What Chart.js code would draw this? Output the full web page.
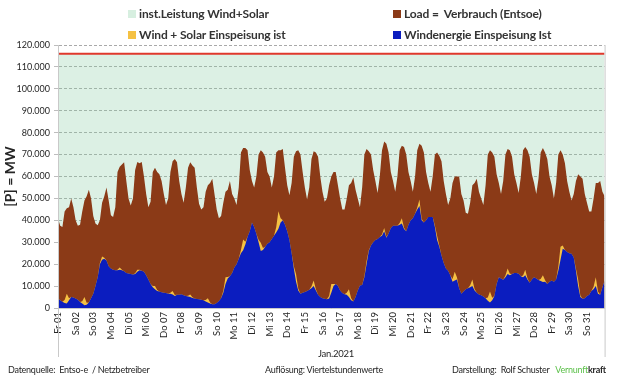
<!DOCTYPE html>
<html>
<head>
<meta charset="utf-8">
<script src="https://cdn.jsdelivr.net/npm/chart.js@4.4.1/dist/chart.umd.min.js"></script>
<style>
  body { margin: 0; background: #fff; font-family: Lato, "Open Sans", sans-serif; color: #262626; }
  #wrap { position: relative; width: 620px; height: 380px; overflow: hidden; }
  #chart { position: absolute; left: 0; top: 0; }
  .leg { position: absolute; font-weight: bold; font-size: 12px; line-height: 14px; white-space: nowrap; color: #333; letter-spacing: -0.15px; }
  .leg i { position: absolute; left: -11px; top: 3px; width: 8px; height: 8px; }
  .foot { position: absolute; top: 364px; font-size: 9px; line-height: 12px; white-space: nowrap; letter-spacing: -0.25px; }
</style>
</head>
<body>
<div id="wrap">
  <canvas id="chart" width="620" height="380"></canvas>
  <div class="leg" style="left:139px;top:7px"><i style="background:#d7efe0"></i>inst.Leistung Wind+Solar</div>
  <div class="leg" style="left:404px;top:7px"><i style="background:#8b3a17"></i>Load =&nbsp; Verbrauch (Entsoe)</div>
  <div class="leg" style="left:139px;top:28px"><i style="background:#f5c143"></i>Wind + Solar Einspeisung ist</div>
  <div class="leg" style="left:404px;top:28px"><i style="background:#0b1dbf"></i>Windenergie Einspeisung Ist</div>
  <div class="foot" style="left:318px;top:348px;font-size:9.5px">Jan.2021</div>
  <div class="foot" style="left:8px">Datenquelle:&nbsp; Entso-e&nbsp; / Netzbetreiber</div>
  <div class="foot" style="left:265px">Auflösung: Viertelstundenwerte</div>
  <div class="foot" style="left:452px">Darstellung:&nbsp; Rolf Schuster&nbsp;&nbsp; <span style="color:#5cc04a">Vernunft</span><b>kraft</b></div>
</div>
<script>
// January 2021, values every 3 hours (00,03,06,...,21h) per day, MW
var dayLabels = ["Fr 01", "Sa 02", "So 03", "Mo 04", "Di 05", "Mi 06", "Do 07", "Fr 08", "Sa 09", "So 10",
  "Mo 11", "Di 12", "Mi 13", "Do 14", "Fr 15", "Sa 16", "So 17", "Mo 18", "Di 19", "Mi 20",
  "Do 21", "Fr 22", "Sa 23", "So 24", "Mo 25", "Di 26", "Mi 27", "Do 28", "Fr 29", "Sa 30", "So 31"];

// installed wind + solar capacity
var instCapacity = [116000, 116000];

var load = [
  40800, 37500, 37000, 44000, 45500, 46000, 50000, 46000,
  40000, 37500, 38000, 44000, 49000, 51000, 54000, 50000,
  42000, 38500, 37700, 40000, 48000, 51000, 55000, 49000,
  42300, 41500, 46000, 62000, 64500, 65500, 66500, 58000,
  50000, 46800, 50000, 63000, 66600, 66000, 66600, 60000,
  52000, 46000, 48500, 62000, 64000, 62000, 61000, 58000,
  52000, 47000, 50000, 62000, 67000, 68000, 66500, 58000,
  52000, 48000, 55000, 64000, 66500, 65000, 64000, 55000,
  47600, 45000, 46000, 53000, 56000, 57000, 59000, 52000,
  45000, 41000, 42000, 48000, 53000, 54000, 58000, 52000,
  50000, 47000, 55000, 71000, 73000, 73000, 72000, 63000,
  58000, 55000, 60000, 70000, 72000, 71000, 69000, 62000,
  60000, 55000, 60000, 71000, 72000, 72000, 72500, 64000,
  56000, 51500, 57000, 69000, 71500, 72000, 70000, 62000,
  55000, 49500, 55000, 68000, 71500, 71000, 69000, 60000,
  53000, 48500, 50000, 56000, 60000, 62000, 62000, 56000,
  50000, 45000, 45000, 50000, 56000, 57000, 59500, 54000,
  50000, 46000, 55000, 70000, 72500, 71500, 70000, 63000,
  58000, 52500, 60000, 72000, 76000, 75000, 71000, 62000,
  58000, 53000, 60000, 72000, 74000, 73500, 70000, 62000,
  58000, 53000, 60000, 72000, 75000, 74000, 71000, 62000,
  57000, 53000, 60000, 70000, 71000, 69500, 67000, 58000,
  52000, 47000, 50000, 57000, 60000, 60000, 60000, 52000,
  49000, 43500, 43000, 48000, 56000, 57000, 59000, 53000,
  50000, 47000, 56000, 70000, 72000, 71000, 69000, 61000,
  57000, 52000, 58000, 70000, 72500, 72000, 69000, 61000,
  57000, 52500, 60000, 72000, 73500, 72000, 69000, 61000,
  57000, 52000, 59000, 71000, 73000, 71000, 68000, 60000,
  56000, 50000, 57000, 70000, 72000, 70000, 66000, 58000,
  53000, 49000, 52000, 58000, 61000, 60000, 59000, 52000,
  48000, 44000, 44000, 50000, 57000, 57000, 58000, 53000,
  51000
];

var wind = [
  4300, 3500, 2800, 2300, 2000, 3500, 5000, 4800,
  4300, 3800, 2700, 2000, 1200, 1500, 2500, 4500,
  6500, 10000, 14000, 20000, 22000, 22500, 21700, 19000,
  18000, 17500, 17200, 17200, 17500, 17200, 16800, 16000,
  15700, 15500, 15300, 15500, 16500, 17200, 17000, 16500,
  15000, 13000, 11000, 9500, 8500, 7800, 7500, 7200,
  7000, 6800, 6500, 6500, 6200, 5500, 6000, 6000,
  6300, 5800, 5500, 5200, 5000, 4600, 4300, 4100,
  4000, 3800, 3500, 3000, 2500, 2000, 1700, 1700,
  2300, 3200, 4500, 7000, 11000, 13500, 14500, 16000,
  18500, 20000, 22500, 25000, 26300, 29000, 32500, 35000,
  39000, 37000, 33900, 30000, 26000, 26500, 28000, 29300,
  30000, 31500, 33000, 34500, 36200, 39000, 40000, 38000,
  35000, 31000, 25000, 18000, 12000, 8000, 6500, 7000,
  7300, 7800, 8300, 9000, 10000, 8000, 6000, 5000,
  4500, 4200, 4000, 4300, 7000, 10000, 11000, 10000,
  8000, 6800, 6300, 6000, 5000, 3500, 3000, 5000,
  8000, 10300, 10500, 14000, 20000, 26000, 28500, 30000,
  31000, 31500, 32400, 33000, 35000, 32000, 34000, 36500,
  37500, 37500, 37500, 38000, 38500, 36000, 35000, 38000,
  40000, 41000, 43000, 45000, 46500, 40000, 39000, 40000,
  41500, 41500, 41500, 37000, 31000, 28000, 24000, 20500,
  18000, 17000, 15000, 12000, 12500, 13000, 9000, 6500,
  7500, 8500, 9000, 9500, 10000, 8000, 7000, 6200,
  5800, 5200, 4500, 3300, 2500, 3500, 5500, 11000,
  14000, 13500, 12900, 14000, 15500, 15000, 15500, 16000,
  16000, 15600, 14500, 14000, 15000, 13000, 11500, 13000,
  14000, 13500, 12800, 12300, 11900, 12000, 11000, 12000,
  12500, 12000, 13000, 17000, 22000, 27000, 26500, 25500,
  25000, 24800, 23000, 17000, 10000, 5000, 4200, 4500,
  5500, 6000, 7800, 8500, 10000, 6500, 6000, 9500,
  12600
];

// solar feed-in at 09h, 12h, 15h of each day
var solar = [
  1300, 4500, 1000,  1100, 3800, 900,  500, 1500, 400,  300, 1000, 300,  300, 1000, 300,
  500, 1500, 400,  500, 1500, 400,  400, 1200, 300,  600, 2000, 500,  900, 3000, 700,
  1500, 5000, 1200,  1100, 3800, 900,  2400, 8000, 2000,  1000, 3500, 900,  800, 2500, 600,
  1200, 4000, 1000,  1000, 3500, 900,  500, 1500, 400,  500, 1500, 400,  800, 2500, 600,
  900, 3000, 700,  600, 2000, 500,  1200, 4000, 1000,  900, 3000, 700,  1500, 5000, 1200,
  800, 2500, 600,  800, 2500, 600,  900, 3000, 700,  1800, 6000, 1500,  900, 3000, 700,
  1200, 4000, 1000
];

function toPoints(arr) {
  return arr.map(function (v, i) { return { x: i * 3, y: v }; });
}

var windSolar = wind.map(function (v, i) {
  var slot = i % 8, day = Math.floor(i / 8), s = 0;
  if (slot >= 3 && slot <= 5 && day < 31) s = solar[day * 3 + slot - 3];
  return { x: i * 3, y: v + s };
});

function fmt(v) {
  return String(v).replace(/\B(?=(\d{3})+(?!\d))/g, ".");
}

// frame lines left/right going down through the axis labels
var frameLines = {
  id: "frameLines",
  afterDraw: function (chart) {
    var a = chart.chartArea, ctx = chart.ctx;
    ctx.save();
    ctx.strokeStyle = "#c9c9c9";
    ctx.lineWidth = 1;
    ctx.beginPath();
    ctx.moveTo(a.left + 0.5, a.top);
    ctx.lineTo(a.left + 0.5, 357);
    ctx.moveTo(a.right + 0.5, a.top);
    ctx.lineTo(a.right + 0.5, 357);
    ctx.stroke();
    ctx.restore();
  }
};

new Chart("chart", {
  type: "line",
  data: {
    datasets: [
      {
        label: "inst.Leistung Wind+Solar",
        data: [{ x: 0, y: instCapacity[0] }, { x: 744, y: instCapacity[1] }],
        backgroundColor: "rgba(138,205,165,0.3)",
        borderColor: "#e0382c",
        borderWidth: 2,
        fill: "origin",
        order: 4
      },
      {
        label: "Load =  Verbrauch (Entsoe)",
        data: toPoints(load),
        backgroundColor: "#8b3a17",
        borderWidth: 0,
        fill: "origin",
        order: 3
      },
      {
        label: "Wind + Solar Einspeisung ist",
        data: windSolar,
        backgroundColor: "#f5c143",
        borderWidth: 0,
        fill: "origin",
        order: 2
      },
      {
        label: "Windenergie Einspeisung Ist",
        data: toPoints(wind),
        backgroundColor: "#0b1dbf",
        borderWidth: 0,
        fill: "origin",
        order: 1
      }
    ]
  },
  options: {
    responsive: false,
    animation: false,
    devicePixelRatio: 1,
    elements: { point: { radius: 0 }, line: { tension: 0 } },
    layout: { padding: { top: 45, right: 11, bottom: 0, left: 0 } },
    plugins: { legend: { display: false }, tooltip: { enabled: false } },
    scales: {
      x: {
        type: "linear",
        min: 0,
        max: 744,
        afterFit: function (s) { s.height = 72; },
        grid: { display: false, drawTicks: false },
        border: { color: "#c9c9c9" },
        ticks: {
          stepSize: 24,
          autoSkip: false,
          minRotation: 90,
          maxRotation: 90,
          padding: 4,
          color: "#262626",
          font: { family: "Lato", size: 9.5 },
          callback: function (v) { return dayLabels[v / 24] || ""; }
        }
      },
      y: {
        min: 0,
        max: 120000,
        afterFit: function (s) { s.width = 58; },
        grid: { color: "#a9a9a9", tickLength: 4, tickColor: "#bdbdbd" },
        border: { color: "#c9c9c9", dash: [3, 2] },
        ticks: {
          stepSize: 5000,
          padding: 4,
          color: "#262626",
          font: { family: "Lato", size: 9 },
          callback: function (v) { return v % 10000 === 0 ? fmt(v) : ""; }
        },
        title: {
          display: true,
          text: "[P] = MW",
          color: "#262626",
          font: { family: "Lato", size: 14, weight: "bold" },
          padding: 2
        }
      }
    }
  },
  plugins: [frameLines]
});
</script>
</body>
</html>
